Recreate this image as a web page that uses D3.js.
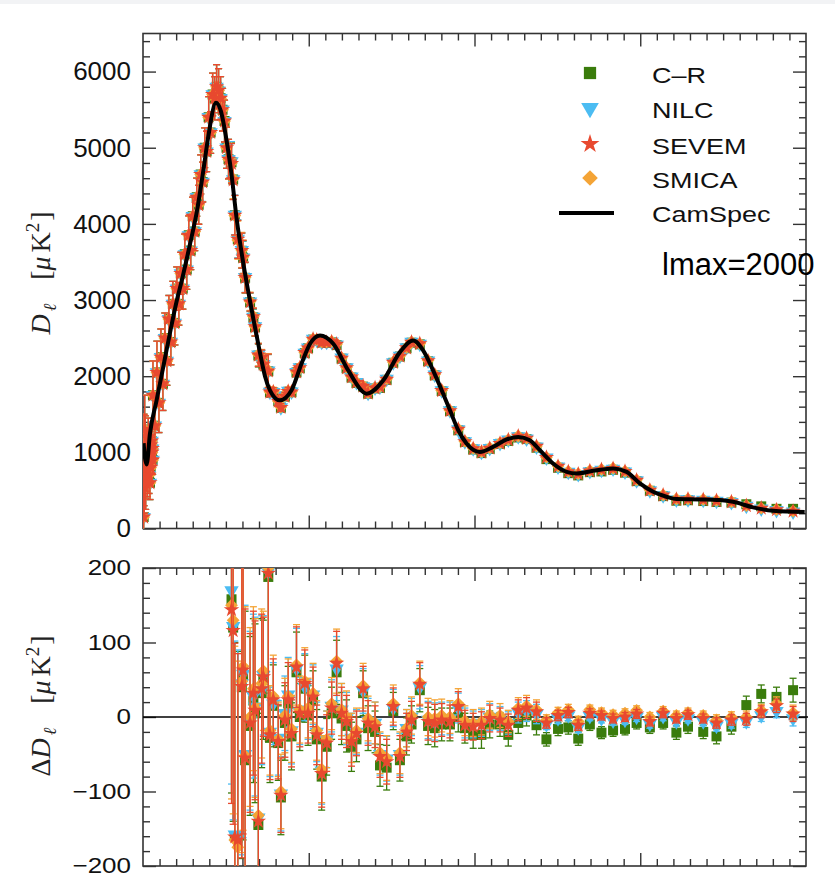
<!DOCTYPE html>
<html lang="en">
<head>
<meta charset="UTF-8">
<title>Planck spectra by component separation method</title>
<script src="https://cdn.jsdelivr.net/npm/d3@7"></script>
<style>
  body { margin: 0; background: #fff; }
  svg { display: block; font-family: "Liberation Sans", Arial, sans-serif; }
</style>
</head>
<body>
<svg id="chart" width="835" height="894"></svg>
<script>
// CamSpec best fit, control points
var camEll = [2, 5, 11, 21, 41, 61, 81, 102, 117, 140, 162, 182, 197, 220, 235, 250, 267, 283, 300, 318,
  333, 351, 368, 383, 413, 448, 478, 504, 534, 574, 619, 675, 725, 775, 815, 845, 875, 901, 926, 951,
  976, 1016, 1056, 1097, 1132, 1167, 1197, 1237, 1278, 1308, 1358, 1418, 1459, 1499, 1539, 1579, 1609, 1680, 1740, 1780,
  1840, 1901, 1996];
var camDl = [1120, 960, 841, 1247, 1683, 2120, 2560, 2993, 3256, 3700, 4150, 4700, 5150, 5592, 5480, 5150, 4650, 4050, 3550, 3100,
  2750, 2350, 2000, 1815, 1683, 1815, 2164, 2426, 2535, 2426, 2077, 1771, 1946, 2316, 2469, 2339, 2077, 1815, 1552, 1290,
  1116, 1006, 1072, 1169, 1203, 1160, 1028, 854, 744, 723, 757, 789, 744, 592, 482, 417, 386, 382, 373, 351,
  278, 233, 216];

// low multipoles (top panel only)
var lowEll = [2, 3, 4, 5, 6, 7, 8, 9, 10, 11, 12, 13, 14, 15, 16, 17, 18, 19, 20, 21, 22, 23, 24, 25, 26, 27, 28, 29,
  30, 36, 42, 48, 54, 60, 66, 72, 78, 84, 90, 96, 102, 108, 114, 120, 126, 132, 138, 144,
  150, 156, 162, 168, 174, 180, 186, 192, 198, 204, 210, 216, 222, 228, 234, 240, 246, 252, 258];
var lowDl = [150, 900, 700, 1300, 800, 1100, 600, 900, 800, 1000, 900, 700, 850, 1000, 1200, 950, 700, 900, 850, 600,
  1050, 800, 1100, 1000, 1150, 1000, 1050, 900,
  1750, 1350, 2050, 1650, 2250, 1900, 2500, 2200, 2750, 2450, 2950, 2700, 3150, 2950, 3350, 3150, 3600, 3400, 3850, 3650,
  4100, 3900, 4350, 4250, 4650, 4550, 5000, 4950, 5400, 5200, 5700, 5650, 5800, 5750, 5650, 5500, 5350, 5000, 4850];
var lowErr = [700, 600, 500, 450, 400, 380, 350, 330, 310, 300, 290, 280, 270, 260, 250, 240, 240, 230, 230, 220,
  220, 210, 210, 200, 200, 200, 190, 190,
  450, 430, 410, 390, 370, 350, 330, 320, 310, 300, 295, 290, 285, 280, 275, 270, 265, 260, 255, 250,
  250, 250, 250, 255, 255, 260, 260, 265, 270, 275, 280, 285, 290, 290, 285, 280, 275, 270, 260];

// binned residuals wrt CamSpec
var binEll = [267, 272, 277, 286, 298, 302, 308, 323, 333, 338, 348, 358, 363, 378, 383, 393, 408, 416, 428, 438,
  448, 463, 473, 488, 498, 513, 524, 539, 554, 569, 584, 599, 614, 629, 644, 664, 679, 700, 715, 735,
  755, 775, 795, 810, 835, 860, 880, 901, 926, 951, 971, 996, 1021, 1046, 1077, 1102, 1132, 1157, 1187, 1217,
  1252, 1283, 1313, 1348, 1383, 1418, 1454, 1489, 1529, 1569, 1609, 1644, 1690, 1730, 1775, 1820, 1865, 1911, 1961];
var resSEVEM = [144, 116, -161, -165, 41, 63, -55, -8, 32, 9, -140, 38, 54, 193, -24, 23, -33, -105, -4, 23,
  -22, 67, 5, 45, 5, 27, -24, -76, -35, 12, 72, 5, -6, -33, -22, 38, -8, -13, -53, -60,
  14, -53, -20, -4, 44, -6, -8, -4, -6, 14, -11, -13, -11, -2, -4, -11, 9, 12, 7, -8,
  2, 6, -11, 5, 2, -2, 0, 4, -6, 5, -2, 3, -2, -8, -4, -3, 7, 15, 4];
var resNILC = [170, 122, -158, -160, 45, 58, -50, -5, 28, 14, -135, 36, 56, 195, -20, 18, -28, -103, 5, 30,
  -18, 65, 8, 40, 10, 30, -20, -72, -30, 15, 65, 10, -2, -28, -20, 35, -5, -8, -50, -56,
  12, -50, -15, 0, 40, -4, -6, -2, -2, 12, -8, -10, -8, 0, -2, -8, 6, 8, 4, -10,
  -2, 2, -14, 1, -2, -5, -4, 0, -9, 1, -6, -2, -6, -12, -8, -6, 2, 8, -2];
var resSMICA = [150, 130, -165, -175, 48, 68, -52, 0, 38, 12, -132, 45, 62, 200, -18, 28, -30, -100, 2, 28,
  -16, 70, 10, 48, 12, 32, -18, -70, -30, 18, 75, 10, 0, -28, -18, 42, -2, -8, -48, -55,
  18, -48, -15, 2, 46, 0, -2, 2, 0, 18, -5, -8, -6, 3, 2, -6, 12, 15, 10, -4,
  6, 10, -6, 10, 6, 3, 5, 9, 0, 8, 2, 6, 2, -4, 0, 0, 9, 18, 6];
var resCR = [158, 120, -160, -162, 40, 55, -58, -12, 22, 5, -145, 32, 50, 188, -28, 15, -35, -108, -8, 18,
  -26, 60, 0, 38, 2, 22, -30, -80, -40, 5, 60, -2, -12, -40, -30, 32, -15, -20, -65, -68,
  8, -58, -26, -10, 36, -12, -15, -10, -10, 0, -15, -24, -24, -10, -10, -24, -8, 2, -11, -30,
  -16, -14, -29, -10, -21, -18, -16, -8, -14, -8, -21, -13, -20, -26, -13, 16, 31, 27, 36];
var errRes = [260, 260, 260, 250, 230, 220, 200, 120, 110, 120, 150, 100, 80, 220, 60, 55, 50, 50, 50, 50,
  45, 54, 45, 45, 40, 40, 40, 45, 38, 35, 43, 35, 35, 33, 30, 30, 30, 28, 28, 30,
  25, 28, 25, 25, 29, 25, 25, 22, 22, 20, 20, 18, 18, 18, 16, 15, 14, 14, 13, 7,
  7, 7, 7, 6, 6, 6, 6, 6, 6, 6, 6, 6, 6, 7, 7, 8, 8, 9, 10];
var errCR = [260, 260, 260, 250, 230, 220, 200, 120, 110, 120, 150, 100, 80, 220, 60, 55, 50, 50, 50, 50,
  45, 54, 45, 45, 40, 40, 40, 45, 38, 35, 43, 35, 35, 33, 30, 30, 30, 28, 28, 30,
  25, 28, 25, 25, 29, 25, 25, 22, 22, 20, 20, 18, 18, 18, 16, 15, 14, 14, 13, 9,
  9, 9, 9, 8, 8, 8, 8, 8, 8, 8, 9, 9, 9, 10, 10, 12, 12, 13, 16];

var topTicks = [0, 1000, 2000, 3000, 4000, 5000, 6000];
var botTicks = [-200, -100, 0, 100, 200];
var ellMajor = [500, 1000, 1500];

var svg = d3.select("#chart");
svg.append("rect").attr("width", 835).attr("height", 4).attr("fill", "#f2f3f5");

var left = 143, right = 806;
var x = d3.scaleLinear().domain([0, 2000]).range([left, right]);
var yTop = d3.scaleLinear().domain([0, 6500]).range([528.5, 33.5]);
var yBot = d3.scaleLinear().domain([-200, 200]).range([866, 568]);
var camSpecAt = d3.scaleLinear().domain(camEll).range(camDl);

var ellMinor = d3.range(50, 2000, 50).filter(function(v) { return v % 500 != 0; });

// methods in drawing order (SEVEM on top)
var methods = [
  { key: "CR", color: "#3a7c0c", res: resCR, err: errCR, sym: d3.symbolSquare, size: 100, rot: 0 },
  { key: "NILC", color: "#4bbcf2", res: resNILC, err: errRes, sym: d3.symbolTriangle, size: 90, rot: 180 },
  { key: "SMICA", color: "#f4a436", res: resSMICA, err: errRes, sym: d3.symbolSquare, size: 82, rot: 45 },
  { key: "SEVEM", color: "#e8492f", res: resSEVEM, err: errRes, sym: d3.symbolStar, size: 74, rot: 0 }
];

function panelFrame(y, y0, y1, majors, minorStep, labelScale) {
  var g = svg.append("g").attr("color", "#333");
  var minorY = d3.range(y.domain()[0], y.domain()[1] + 1, minorStep)
    .filter(function(v) { return majors.indexOf(v) < 0; });

  var la = g.append("g").attr("transform", "translate(" + left + ",0)")
    .call(d3.axisLeft(y).tickValues(majors).tickSize(-13).tickPadding(12).tickFormat(d3.format("d")));
  la.selectAll("text").attr("font-size", 26).attr("fill", "#111")
    .attr("font-family", "'Liberation Sans', Arial, sans-serif")
    .attr("transform", "scale(1," + labelScale + ")");
  g.append("g").attr("transform", "translate(" + left + ",0)")
    .call(d3.axisLeft(y).tickValues(minorY).tickSize(-7).tickFormat(""));
  g.append("g").attr("transform", "translate(" + right + ",0)")
    .call(d3.axisRight(y).tickValues(majors).tickSize(-13).tickFormat(""));
  g.append("g").attr("transform", "translate(" + right + ",0)")
    .call(d3.axisRight(y).tickValues(minorY).tickSize(-7).tickFormat(""));
  g.append("g").attr("transform", "translate(0," + y0 + ")")
    .call(d3.axisTop(x).tickValues(ellMajor).tickSize(-13).tickFormat(""));
  g.append("g").attr("transform", "translate(0," + y0 + ")")
    .call(d3.axisTop(x).tickValues(ellMinor).tickSize(-7).tickFormat(""));
  g.append("g").attr("transform", "translate(0," + y1 + ")")
    .call(d3.axisBottom(x).tickValues(ellMajor).tickSize(-13).tickFormat(""));
  g.append("g").attr("transform", "translate(0," + y1 + ")")
    .call(d3.axisBottom(x).tickValues(ellMinor).tickSize(-7).tickFormat(""));
  g.selectAll(".domain").remove();
  g.selectAll(".tick line").attr("stroke-width", 1.4);

  g.append("rect").attr("x", left).attr("y", y0).attr("width", right - left).attr("height", y1 - y0)
    .attr("fill", "none").attr("stroke", "#333").attr("stroke-width", 1.6);
}

var defs = svg.append("defs");
defs.append("clipPath").attr("id", "clipTop").append("rect")
  .attr("x", left).attr("y", 33.5).attr("width", right - left).attr("height", 495);
defs.append("clipPath").attr("id", "clipBot").append("rect")
  .attr("x", left).attr("y", 568).attr("width", right - left).attr("height", 298);

function drawPoints(g, pts, y, m) {
  var eb = g.append("g").attr("stroke", m.color).attr("stroke-width", 1.3);
  pts.forEach(function(p) {
    var ya = y(p.v - p.e), yb = y(p.v + p.e), xx = x(p.l);
    eb.append("line").attr("x1", xx).attr("x2", xx).attr("y1", ya).attr("y2", yb);
    eb.append("line").attr("x1", xx - 3.5).attr("x2", xx + 3.5).attr("y1", ya).attr("y2", ya);
    eb.append("line").attr("x1", xx - 3.5).attr("x2", xx + 3.5).attr("y1", yb).attr("y2", yb);
  });
  g.append("g").selectAll("path").data(pts).join("path")
    .attr("d", d3.symbol(m.sym, m.size))
    .attr("transform", function(p) { return "translate(" + x(p.l) + "," + y(p.v) + ") rotate(" + m.rot + ")"; })
    .attr("fill", m.color);
}

// ---- top panel ----
panelFrame(yTop, 33.5, 528.5, topTicks, 200, 1);
var gTop = svg.append("g").attr("clip-path", "url(#clipTop)");
methods.forEach(function(m) {
  var pts = lowEll.map(function(l, i) { return { l: l, v: lowDl[i], e: lowErr[i] }; })
    .concat(binEll.map(function(l, i) { return { l: l, v: camSpecAt(l) + m.res[i], e: m.err[i] }; }));
  drawPoints(gTop, pts, yTop, m);
});
gTop.append("path")
  .datum(camEll.map(function(l, i) { return [l, camDl[i]]; }))
  .attr("d", d3.line().x(function(d) { return x(d[0]); }).y(function(d) { return yTop(d[1]); }).curve(d3.curveMonotoneX))
  .attr("fill", "none").attr("stroke", "#000").attr("stroke-width", 4);

// ---- bottom panel ----
panelFrame(yBot, 568, 866, botTicks, 20, 0.82);
svg.append("line").attr("x1", left).attr("x2", right + 2).attr("y1", yBot(0)).attr("y2", yBot(0))
  .attr("stroke", "#000").attr("stroke-width", 1.5);
var gBot = svg.append("g").attr("clip-path", "url(#clipBot)");
methods.forEach(function(m) {
  var pts = binEll.map(function(l, i) { return { l: l, v: m.res[i], e: m.err[i] }; });
  drawPoints(gBot, pts, yBot, m);
});

// ---- legend ----
var legendRows = [
  { label: "C–R", m: methods[0], y: 73 },
  { label: "NILC", m: methods[1], y: 108 },
  { label: "SEVEM", m: methods[3], y: 144 },
  { label: "SMICA", m: methods[2], y: 178 }
];
var lg = svg.append("g");
legendRows.forEach(function(r) {
  lg.append("path").attr("d", d3.symbol(r.m.sym, r.m.size * 1.5))
    .attr("transform", "translate(590," + r.y + ") rotate(" + r.m.rot + ")")
    .attr("fill", r.m.color);
  lg.append("text").attr("transform", "translate(652," + (r.y + 2) + ") scale(1,0.82)")
    .attr("dy", "0.35em").attr("font-size", 27).attr("fill", "#111").text(r.label);
});
lg.append("line").attr("x1", 559).attr("x2", 614).attr("y1", 213).attr("y2", 213)
  .attr("stroke", "#000").attr("stroke-width", 4);
lg.append("text").attr("transform", "translate(652,214) scale(1,0.82)")
  .attr("dy", "0.35em").attr("font-size", 27).attr("fill", "#111").text("CamSpec");

svg.append("text").attr("x", 662).attr("y", 275)
  .attr("font-size", 31).attr("fill", "#000").text("lmax=2000");

// ---- y labels ----
function yLabel(cx, cy, delta) {
  var t = svg.append("text").attr("transform", "translate(" + cx + "," + cy + ") rotate(-90)")
    .attr("text-anchor", "middle").attr("font-family", "'Liberation Serif', 'DejaVu Serif', serif")
    .attr("font-size", 28).attr("fill", "#222");
  if (delta) t.append("tspan").text("Δ");
  t.append("tspan").attr("font-style", "italic").text("D");
  t.append("tspan").attr("font-style", "italic").attr("font-size", 18).attr("dx", 3).attr("dy", 6).text("ℓ");
  t.append("tspan").attr("dx", 24).attr("dy", -6).text("[");
  t.append("tspan").attr("font-style", "italic").text("μ");
  t.append("tspan").attr("dx", 4).text("K");
  t.append("tspan").attr("font-size", 19).attr("dy", -11).text("2");
  t.append("tspan").attr("dx", 2).attr("dy", 11).text("]");
}
yLabel(50, 273, false);
yLabel(50, 706, true);
</script>
</body>
</html>
